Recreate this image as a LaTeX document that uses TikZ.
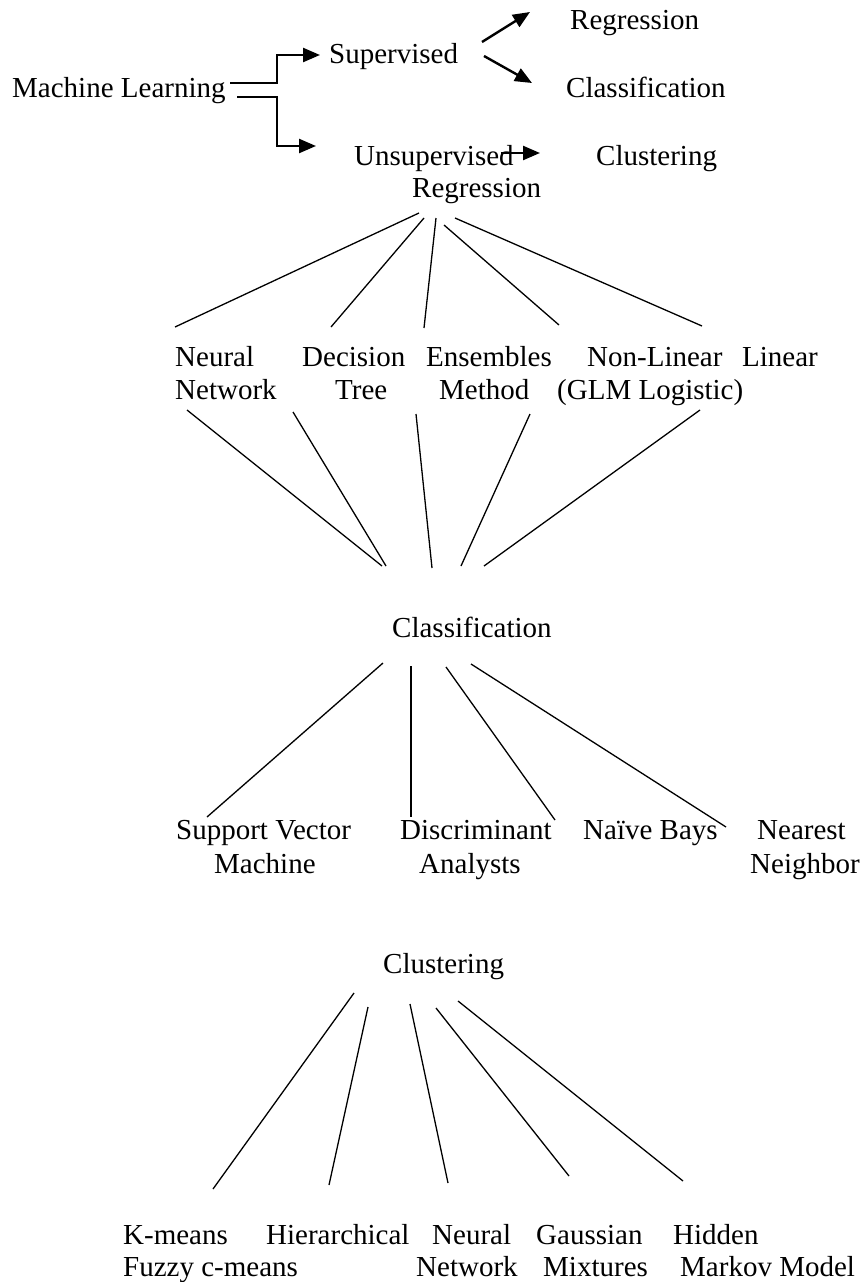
\documentclass[tikz,border=0pt]{standalone}
\usepackage{fontspec}
\setmainfont{Liberation Serif}
\usetikzlibrary{arrows.meta,calc}
\begin{document}
\begin{tikzpicture}[x=1pt,y=-1pt,
  lbl/.style={anchor=base west,inner sep=0pt,font=\fontsize{29}{33}\selectfont},
  fan/.style={line width=1.3pt},
  arr/.style={line width=2.4pt,-{Triangle[length=17pt,width=14pt]}}]
\useasboundingbox (0,0) rectangle (863,1282);
% ---------- top ----------
\node[lbl] (ml)    at (12,97)   {Machine Learning};
\node[lbl] (sup)   at (329,63)  {Supervised};
\node[lbl] (reg1)  at (570,29)  {Regression};
\node[lbl] (cls1)  at (566,97)  {Classification};
\node[lbl] (uns)   at (354,165) {Unsupervised};
\node[lbl] (clu1)  at (596,165) {Clustering};
\node[lbl] (reg2)  at (412,197) {Regression};
\coordinate (mlU) at (230,83);
\coordinate (mlL) at (237,97);
\coordinate (supT) at (320,55);
\coordinate (unsT) at (316,146);
\draw[arr] (mlU) -- (277,83) |- (supT);
\draw[arr] (mlL) -- (277,97) |- (unsT);
\coordinate (s1) at (482,42);  \coordinate (r1t) at (530,12);
\coordinate (s2) at (484,56);  \coordinate (c1t) at (532,83);
\draw[arr] (s1) -- (r1t);
\draw[arr] (s2) -- (c1t);
\coordinate (u1) at (501,153); \coordinate (cl1t) at (540,153);
\draw[arr] (u1) -- (cl1t);
% ---------- regression fan ----------
\node[lbl] (nn1)  at (175,366) {Neural};
\node[lbl] (nn2)  at (175,399) {Network};
\node[lbl] (dt1)  at (302,366) {Decision};
\node[lbl] (dt2)  at (335,399) {Tree};
\node[lbl] (em1)  at (426,366) {Ensembles};
\node[lbl] (em2)  at (439,399) {Method};
\node[lbl] (nl1)  at (587,366) {Non-Linear};
\node[lbl] (nl2)  at (557,399) {(GLM Logistic)};
\node[lbl] (lin)  at (742,366) {Linear};
\foreach \tx/\ty/\bx/\by in {419/213/175/327, 424/218/331/327, 436/218/424/328, 444/225/559/325, 455/218/702/326}
  \draw[fan] (\tx,\ty) -- (\bx,\by);
\foreach \tx/\ty/\bx/\by in {187/410/382/566, 293/412/386/566, 416/414/432/568, 530/414/461/566, 700/410/484/566}
  \draw[fan] (\tx,\ty) -- (\bx,\by);
% ---------- classification ----------
\node[lbl] (cls2) at (392,637) {Classification};
\node[lbl] (svm1) at (176,839) {Support Vector};
\node[lbl] (svm2) at (214,873) {Machine};
\node[lbl] (da1)  at (400,839) {Discriminant};
\node[lbl] (da2)  at (419,873) {Analysts};
\node[lbl] (nb)   at (583,839) {Naïve Bays};
\node[lbl] (nn3)  at (757,839) {Nearest};
\node[lbl] (nn4)  at (750,873) {Neighbor};
\foreach \tx/\ty/\bx/\by in {383/663/207/817, 411/666/411/817, 446/667/555/820, 471/664/726/827}
  \draw[fan] (\tx,\ty) -- (\bx,\by);
% ---------- clustering ----------
\node[lbl] (clu2) at (383,973) {Clustering};
\node[lbl] (km)   at (123,1244) {K-means};
\node[lbl] (fcm)  at (123,1276) {Fuzzy c-means};
\node[lbl] (hc)   at (266,1244) {Hierarchical};
\node[lbl] (cn1)  at (432,1244) {Neural};
\node[lbl] (cn2)  at (416,1276) {Network};
\node[lbl] (gm1)  at (536,1244) {Gaussian};
\node[lbl] (gm2)  at (543,1276) {Mixtures};
\node[lbl] (hm1)  at (673,1244) {Hidden};
\node[lbl] (hm2)  at (680,1276) {Markov Model};
\foreach \tx/\ty/\bx/\by in {354/993/213/1189, 368/1007/329/1185, 410/1004/448/1183, 436/1008/569/1176, 458/1001/683/1181}
  \draw[fan] (\tx,\ty) -- (\bx,\by);
\end{tikzpicture}
\end{document}
